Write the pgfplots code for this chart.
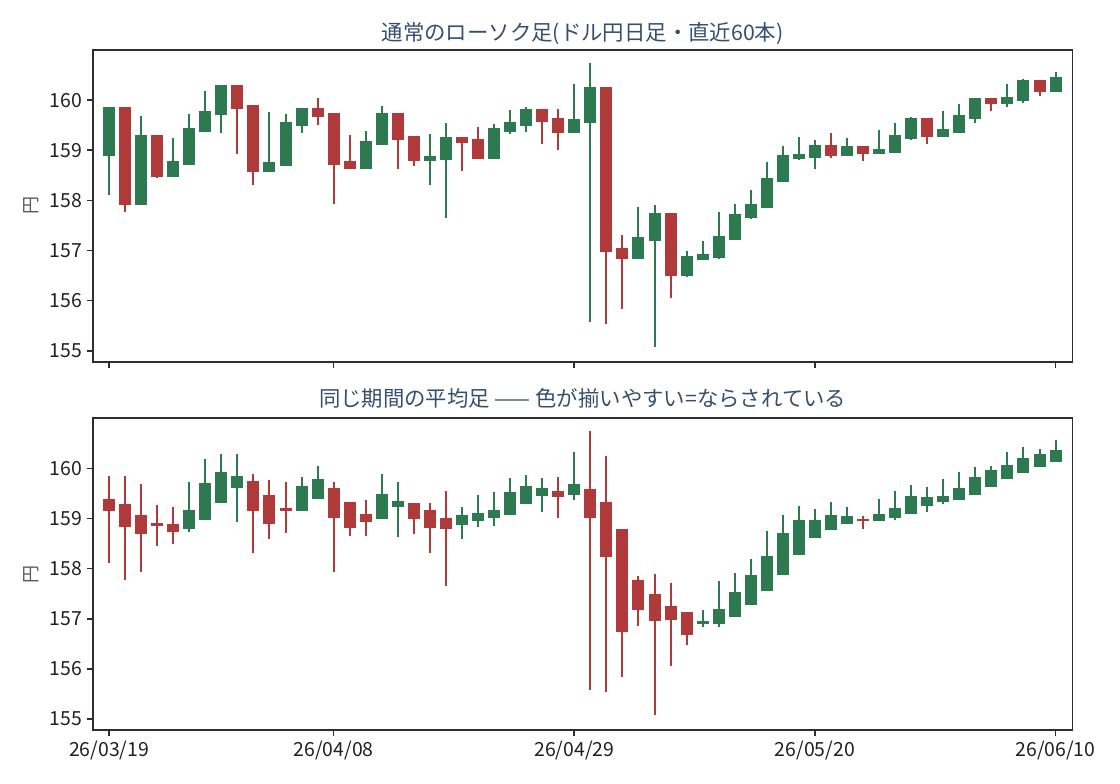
\documentclass[border=0pt]{standalone}
\usepackage{fontspec}
\setmainfont{Noto Sans CJK JP}
\usepackage{pgfplots}
\pgfplotsset{compat=1.18}
\usepackage{pgfplotstable}
\definecolor{up}{HTML}{2D7A50}
\definecolor{dn}{HTML}{B03A3A}
\definecolor{ttl}{HTML}{34506E}
\definecolor{spine}{HTML}{2E2E2E}

\pgfplotstableread{
i o h l c
0 158.91 159.84 158.11 159.84
1 159.84 159.84 157.77 157.93
2 157.93 159.68 157.93 159.28
3 159.28 159.28 158.45 158.49
4 158.49 159.24 158.49 158.76
5 158.73 159.72 158.73 159.42
6 159.39 160.18 159.39 159.76
7 159.73 160.28 159.35 160.28
8 160.28 160.28 158.93 159.85
9 159.88 159.88 158.31 158.59
10 158.59 159.76 158.59 158.74
11 158.71 159.72 158.71 159.54
12 159.51 159.82 159.35 159.82
13 159.82 160.04 159.51 159.69
14 159.72 159.72 157.93 158.73
15 158.76 159.30 158.65 158.65
16 158.65 159.38 158.65 159.16
17 159.13 159.88 159.13 159.72
18 159.72 159.72 158.63 159.23
19 159.26 159.26 158.69 158.81
20 158.81 159.32 158.31 158.86
21 158.83 159.54 157.65 159.24
22 159.24 159.24 158.59 159.17
23 159.20 159.46 158.83 158.85
24 158.85 159.52 158.85 159.42
25 159.39 159.80 159.33 159.54
26 159.51 159.86 159.37 159.80
27 159.80 159.80 159.13 159.59
28 159.62 159.82 159.01 159.37
29 159.37 160.32 159.37 159.60
30 159.57 160.74 155.57 160.24
31 160.24 160.24 155.53 156.99
32 157.02 157.30 155.83 156.85
33 156.85 157.86 156.85 157.24
34 157.21 157.90 155.07 157.72
35 157.72 157.72 156.05 156.51
36 156.51 156.98 156.47 156.86
37 156.83 157.18 156.83 156.90
38 156.87 157.76 156.83 157.26
39 157.23 157.92 157.23 157.70
40 157.67 158.20 157.63 157.90
41 157.87 158.76 157.87 158.42
42 158.39 159.08 158.39 158.88
43 158.85 159.26 158.81 158.90
44 158.87 159.20 158.63 159.08
45 159.08 159.34 158.85 158.91
46 158.91 159.24 158.91 159.06
47 159.06 159.06 158.79 158.95
48 158.95 159.40 158.95 159.00
49 158.97 159.54 158.97 159.28
50 159.25 159.66 159.21 159.62
51 159.62 159.62 159.13 159.29
52 159.29 159.78 159.29 159.40
53 159.37 159.92 159.37 159.68
54 159.65 160.02 159.55 160.02
55 160.02 160.04 159.79 159.95
56 159.95 160.32 159.87 160.04
57 160.01 160.42 159.95 160.38
58 160.38 160.38 160.09 160.19
59 160.19 160.56 160.19 160.44
}\ohlc

\pgfplotstableread{
i o h l c
0 159.375 159.840 158.110 159.175
1 159.275 159.840 157.770 158.845
2 159.060 159.680 157.930 158.705
3 158.883 159.280 158.450 158.875
4 158.879 159.240 158.490 158.745
5 158.812 159.720 158.730 159.150
6 158.981 160.180 158.981 159.680
7 159.330 160.280 159.330 159.910
8 159.620 160.280 158.930 159.835
9 159.728 159.880 158.310 159.165
10 159.446 159.760 158.590 158.920
11 159.183 159.720 158.710 159.170
12 159.177 159.820 159.177 159.625
13 159.401 160.040 159.401 159.765
14 159.583 159.720 157.930 159.025
15 159.304 159.304 158.650 158.840
16 159.072 159.380 158.650 158.960
17 159.016 159.880 159.016 159.465
18 159.241 159.720 158.630 159.325
19 159.283 159.283 158.690 159.005
20 159.144 159.320 158.310 158.825
21 158.984 159.540 157.650 158.815
22 158.900 159.240 158.590 159.060
23 158.980 159.460 158.830 159.085
24 159.032 159.520 158.850 159.160
25 159.096 159.800 159.096 159.515
26 159.306 159.860 159.306 159.635
27 159.470 159.800 159.130 159.580
28 159.525 159.820 159.010 159.455
29 159.490 160.320 159.370 159.665
30 159.578 160.740 155.570 159.030
31 159.304 160.240 155.530 158.250
32 158.777 158.777 155.830 156.750
33 157.763 157.860 156.850 157.200
34 157.482 157.900 155.070 156.975
35 157.228 157.720 156.050 157.000
36 157.114 157.114 156.470 156.705
37 156.910 157.180 156.830 156.935
38 156.922 157.760 156.830 157.180
39 157.051 157.920 157.051 157.520
40 157.286 158.200 157.286 157.850
41 157.568 158.760 157.568 158.230
42 157.899 159.080 157.899 158.685
43 158.292 159.260 158.292 158.955
44 158.623 159.200 158.623 158.945
45 158.784 159.340 158.784 159.045
46 158.915 159.240 158.910 159.030
47 158.972 159.060 158.790 158.965
48 158.969 159.400 158.950 159.075
49 159.022 159.540 158.970 159.190
50 159.106 159.660 159.106 159.435
51 159.270 159.620 159.130 159.415
52 159.343 159.780 159.290 159.440
53 159.391 159.920 159.370 159.585
54 159.488 160.020 159.488 159.810
55 159.649 160.040 159.649 159.950
56 159.800 160.320 159.800 160.045
57 159.922 160.420 159.922 160.190
58 160.056 160.380 160.056 160.260
59 160.158 160.560 160.158 160.345
}\heikin

\pgfplotsset{
  panel/.style={
    scale only axis, width=705.5bp, height=224.4bp,
    anchor=south west,
    xmin=-1.02, xmax=60.06, ymin=154.78, ymax=161.0,
    axis line style={spine, line width=1.2bp},
    tick style={spine, line width=1.2bp},
    major tick length=4.3bp, tick align=outside,
    xtick pos=bottom, ytick pos=left,
    xtick={0,14,29,44,59}, ytick={155,156,157,158,159,160},
    /pgf/number format/assume math mode=true,
    tick label style={font=\fontsize{14bp}{16bp}\selectfont, text=black!87},
    ylabel={円},
    ylabel style={at={(axis description cs:-0.0625,0.5)}, anchor=center,
      font=\fontsize{13bp}{15bp}\selectfont, text=black!65},
    title style={at={(axis description cs:0.5,1)}, anchor=base,
      font=\fontsize{15.4bp}{18bp}\selectfont, text=ttl},
  },
  wick/.style={line width=1.44bp},
  body/.style={line width=8.64bp, line cap=butt, shorten <=-0.72bp, shorten >=-0.72bp},
  green only/.style={restrict expr to domain={\thisrow{c}-\thisrow{o}}{0:100}},
  red only/.style={restrict expr to domain={\thisrow{c}-\thisrow{o}}{-100:0}},
}

\begin{document}
\begin{tikzpicture}
\useasboundingbox (0,0) rectangle (806.4bp,564.48bp);

\begin{axis}[panel, at={(66.74bp,304.06bp)}, xticklabels={},
  title={通常のローソク足(ドル円日足・直近60本)},
  title style={yshift=0.6bp}]
  \addplot[up, wick, green only, quiver={u=0, v=\thisrow{h}-\thisrow{l}}] table[x=i, y=l] {\ohlc};
  \addplot[dn, wick, red only, quiver={u=0, v=\thisrow{h}-\thisrow{l}}] table[x=i, y=l] {\ohlc};
  \addplot[up, body, green only, quiver={u=0, v=\thisrow{c}-\thisrow{o}}] table[x=i, y=o] {\ohlc};
  \addplot[dn, body, red only, quiver={u=0, v=\thisrow{c}-\thisrow{o}}] table[x=i, y=o] {\ohlc};
\end{axis}

\begin{axis}[panel, at={(66.74bp,38.88bp)},
  xticklabels={26/03/19,26/04/08,26/04/29,26/05/20,26/06/10},
  title={同じ期間の平均足 —— 色が揃いやすい=ならされている},
  title style={yshift=2.6bp}]
  \addplot[up, wick, green only, quiver={u=0, v=\thisrow{h}-\thisrow{l}}] table[x=i, y=l] {\heikin};
  \addplot[dn, wick, red only, quiver={u=0, v=\thisrow{h}-\thisrow{l}}] table[x=i, y=l] {\heikin};
  \addplot[up, body, green only, quiver={u=0, v=\thisrow{c}-\thisrow{o}}] table[x=i, y=o] {\heikin};
  \addplot[dn, body, red only, quiver={u=0, v=\thisrow{c}-\thisrow{o}}] table[x=i, y=o] {\heikin};
\end{axis}
\end{tikzpicture}
\end{document}
